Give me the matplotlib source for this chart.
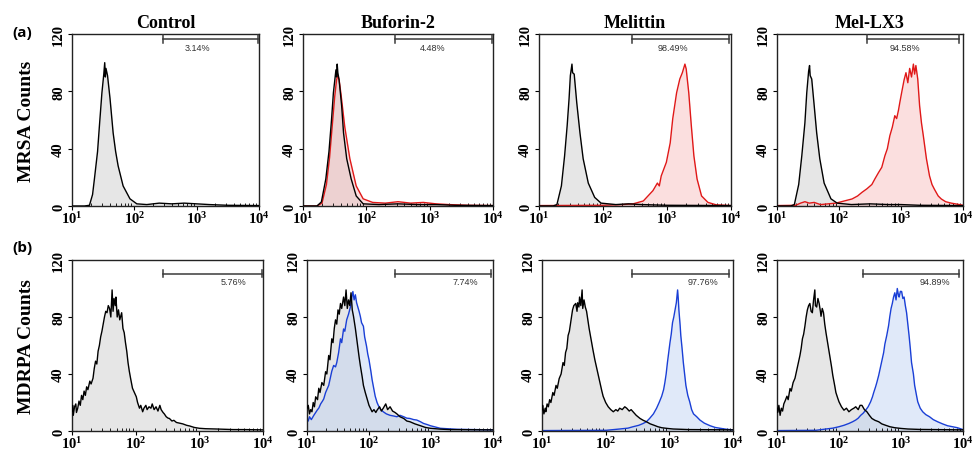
import numpy as np
import matplotlib
matplotlib.use('Agg')
import matplotlib.pyplot as plt

plt.rcParams['font.family'] = ['Liberation Serif', 'DejaVu Serif']
plt.rcParams['mathtext.fontset'] = 'custom'
plt.rcParams['mathtext.rm'] = 'Liberation Serif:bold'
plt.rcParams['mathtext.it'] = 'Liberation Serif:bold'
plt.rcParams['mathtext.bf'] = 'Liberation Serif:bold'

titles = ['Control', 'Buforin-2', 'Melittin', 'Mel-LX3']
row_labels = ['MRSA Counts', 'MDRPA Counts']
row_tags = ['(a)', '(b)']
y_ticks = [0, 40, 80, 120]
x_ticks = [10, 100, 1000, 10000]
x_ticklabels = ['$10^{1}$', '$10^{2}$', '$10^{3}$', '$10^{4}$']

# gate percentages, row a then row b
gate_pct_a = ['3.14%', '4.48%', '98.49%', '94.58%']
gate_pct_b = ['5.76%', '7.74%', '97.76%', '94.89%']

# histogram traces: x in log10(fluorescence), y in counts
# --- MRSA ---
ctl_a1_x = [1.00, 1.20, 1.28, 1.33, 1.36, 1.41, 1.44, 1.48, 1.51, 1.525, 1.535, 1.545, 1.57, 1.61, 1.66, 1.70, 1.74, 1.82, 1.93, 2.04, 2.20, 2.40, 2.60, 2.80, 3.00, 3.20, 3.50, 4.00]
ctl_a1_y = [0, 0, 0.5, 8, 19, 38, 56, 79, 92, 100, 90, 96, 91, 75, 51, 38, 28, 14, 5, 1.5, 1, 2, 1.5, 2, 1.5, 1, 0.5, 0.3]

ctl_a2_x = [1.00, 1.22, 1.29, 1.36, 1.41, 1.45, 1.48, 1.52, 1.53, 1.54, 1.55, 1.57, 1.61, 1.64, 1.69, 1.76, 1.84, 1.95, 2.20, 2.50, 2.80, 3.10, 3.40, 4.00]
ctl_a2_y = [0, 0, 2.8, 18.8, 38, 60, 79, 95, 90, 99, 93, 88, 70, 51, 33, 19, 7, 1.5, 1, 1.5, 1, 1, 0.5, 0.3]
trt_a2_x = [1.00, 1.22, 1.30, 1.37, 1.42, 1.46, 1.50, 1.53, 1.55, 1.57, 1.60, 1.66, 1.74, 1.84, 1.95, 2.10, 2.30, 2.50, 2.70, 2.90, 3.10, 3.30, 3.60, 4.00]
trt_a2_y = [0, 0, 2, 15, 34, 55, 76, 88, 91, 88, 78, 55, 33, 14, 5, 2.5, 2, 3, 2, 2.5, 1.5, 1, 0.5, 0.3]

ctl_a3_x = [1.00, 1.22, 1.28, 1.35, 1.40, 1.44, 1.47, 1.49, 1.515, 1.525, 1.55, 1.59, 1.64, 1.69, 1.77, 1.87, 1.97, 2.20, 2.40, 2.60, 3.00, 4.00]
ctl_a3_y = [0, 0, 1, 14, 35, 56, 75, 91, 99, 93, 92, 72, 51, 33, 16, 6, 2, 1, 1.5, 1, 0.5, 0.3]
trt_a3_x = [1.00, 2.00, 2.30, 2.47, 2.63, 2.78, 2.85, 2.88, 2.91, 2.99, 3.05, 3.09, 3.15, 3.20, 3.24, 3.28, 3.30, 3.34, 3.38, 3.42, 3.47, 3.54, 3.64, 3.77, 4.00]
trt_a3_y = [0.3, 0.5, 1, 1.5, 3.5, 10.7, 16, 14, 21, 30.5, 44, 61, 79, 88.6, 93, 99, 95.6, 79, 56, 35, 18.8, 7, 2.5, 0.8, 0.3]

ctl_a4_x = [1.00, 1.22, 1.28, 1.35, 1.40, 1.45, 1.48, 1.51, 1.525, 1.535, 1.56, 1.60, 1.64, 1.69, 1.76, 1.87, 1.97, 2.20, 2.50, 2.80, 3.00, 3.30, 4.00]
ctl_a4_y = [0, 0, 1, 15, 35, 58, 79, 94, 98, 91, 88.6, 70, 51, 33, 16, 5, 2, 1, 1.5, 1, 1, 0.5, 0.3]
trt_a4_x = [1.00, 1.30, 1.38, 1.45, 1.52, 1.60, 1.70, 1.95, 2.21, 2.30, 2.37, 2.45, 2.53, 2.58, 2.64, 2.69, 2.74, 2.78, 2.82, 2.86, 2.90, 2.93, 2.96, 2.98, 3.01, 3.05, 3.08, 3.11, 3.14, 3.17, 3.20, 3.22, 3.24, 3.27, 3.30, 3.33, 3.36, 3.41, 3.46, 3.50, 3.54, 3.60, 3.65, 3.72, 3.81, 3.97, 4.00]
trt_a4_y = [0.3, 0.5, 2, 3, 2, 2.5, 1, 2, 4.9, 7, 9.5, 12, 15, 19, 23.5, 27, 35, 40, 49, 55, 63, 61, 67, 72, 79, 88, 93, 86, 96, 90, 99, 92, 98, 88.6, 70, 58, 49, 33, 21, 15, 11.6, 7, 4.9, 3, 2, 0.8, 0.5]

# --- MDRPA ---
ctl_b1_x = [1.00, 1.01, 1.02, 1.04, 1.06, 1.07, 1.09, 1.11, 1.13, 1.15, 1.17, 1.19, 1.21, 1.23, 1.25, 1.28, 1.30, 1.33, 1.35, 1.37, 1.39, 1.41, 1.43, 1.45, 1.47, 1.49, 1.51, 1.53, 1.55, 1.57, 1.59, 1.61, 1.63, 1.645, 1.66, 1.68, 1.69, 1.71, 1.73, 1.75, 1.78, 1.80, 1.82, 1.84, 1.86, 1.88, 1.90, 1.92, 1.95, 1.98, 2.01, 2.03, 2.06, 2.08, 2.11, 2.13, 2.16, 2.18, 2.21, 2.24, 2.26, 2.29, 2.32, 2.35, 2.38, 2.40, 2.43, 2.45, 2.48, 2.51, 2.53, 2.57, 2.60, 2.64, 2.69, 2.74, 2.80, 2.85, 2.92, 3.00, 3.10, 3.27, 3.40, 3.53, 3.70, 4.00]
ctl_b1_y = [14, 18, 11, 17, 19, 13, 16, 21, 18, 25, 22, 28, 25, 31, 29, 35, 33, 37, 44, 49, 47, 56, 60, 66, 70, 75, 80, 84, 83, 88, 86, 80, 99, 84, 93, 88, 94, 80, 85, 78, 83, 72, 69, 62, 56, 48, 42, 37, 30, 27, 24, 20, 16, 18, 13.5, 16, 18, 15, 17, 16, 19, 15, 17, 14, 18, 15, 13, 12, 10, 9, 8.8, 7, 7.5, 6, 5.5, 5, 4, 3.5, 2.5, 1.9, 1.6, 1.4, 1.2, 1, 1, 0.8]

ctl_b2_x = [1.00, 1.02, 1.04, 1.06, 1.08, 1.10, 1.12, 1.14, 1.17, 1.19, 1.21, 1.24, 1.27, 1.30, 1.32, 1.35, 1.37, 1.40, 1.42, 1.44, 1.46, 1.48, 1.50, 1.52, 1.54, 1.56, 1.59, 1.61, 1.63, 1.65, 1.67, 1.69, 1.71, 1.73, 1.75, 1.78, 1.81, 1.84, 1.86, 1.89, 1.91, 1.94, 1.97, 2.00, 2.05, 2.08, 2.11, 2.13, 2.17, 2.20, 2.23, 2.27, 2.30, 2.34, 2.38, 2.42, 2.45, 2.50, 2.56, 2.61, 2.66, 2.74, 2.83, 2.91, 2.99, 3.15, 3.30, 4.00]
ctl_b2_y = [16, 18, 12, 15, 13.5, 20, 17, 24, 22, 30, 27, 34, 32, 41.6, 40, 53, 50, 64.7, 62, 72, 78, 75, 85, 82, 89.5, 86, 94, 88, 99, 86, 92, 88, 97, 85, 80.5, 72, 62, 52, 46, 38, 32, 27, 22.5, 18, 13.5, 15, 13, 14.6, 17, 14, 16, 19, 15, 17, 14, 13, 12, 10, 8.8, 7, 6.5, 5, 3.7, 2.5, 1.9, 1.3, 1, 0.8]
trt_b2_x = [1.00, 1.02, 1.04, 1.07, 1.11, 1.14, 1.17, 1.19, 1.22, 1.25, 1.27, 1.30, 1.33, 1.35, 1.38, 1.40, 1.43, 1.46, 1.48, 1.51, 1.54, 1.56, 1.59, 1.61, 1.64, 1.67, 1.70, 1.72, 1.74, 1.76, 1.78, 1.80, 1.82, 1.84, 1.86, 1.88, 1.91, 1.93, 1.96, 1.98, 2.00, 2.03, 2.05, 2.08, 2.10, 2.13, 2.15, 2.19, 2.23, 2.28, 2.34, 2.40, 2.45, 2.50, 2.56, 2.61, 2.66, 2.72, 2.77, 2.83, 2.88, 2.94, 2.99, 3.07, 3.15, 3.30, 3.42, 4.00]
trt_b2_y = [9, 7, 10, 8, 11, 13, 15, 16, 19, 21, 22.5, 27, 30, 32, 38, 42, 46, 45, 48, 55, 64.7, 62, 71.6, 70, 78, 82, 87, 93, 97.9, 92, 95.6, 90, 87, 84, 80.5, 76, 73.5, 66, 59.6, 54, 50, 42, 36, 29, 24.4, 20, 18, 15, 13.5, 12, 11, 10.5, 10, 11, 10, 9, 8.8, 8, 7.7, 6.5, 5.3, 4.5, 3.7, 2.8, 1.9, 1.5, 1.2, 0.8]

ctl_b3_x = [1.00, 1.01, 1.03, 1.05, 1.06, 1.08, 1.10, 1.12, 1.14, 1.17, 1.19, 1.22, 1.24, 1.27, 1.30, 1.33, 1.35, 1.37, 1.39, 1.41, 1.43, 1.45, 1.47, 1.48, 1.50, 1.53, 1.55, 1.56, 1.58, 1.59, 1.61, 1.63, 1.64, 1.66, 1.68, 1.70, 1.72, 1.74, 1.76, 1.78, 1.80, 1.83, 1.85, 1.88, 1.91, 1.94, 1.96, 2.00, 2.04, 2.08, 2.12, 2.16, 2.19, 2.22, 2.26, 2.30, 2.33, 2.37, 2.40, 2.43, 2.48, 2.54, 2.59, 2.64, 2.70, 2.75, 2.82, 2.88, 2.97, 3.06, 3.30, 4.00]
ctl_b3_y = [15, 18, 12, 16, 13.5, 19, 17, 22, 20, 27, 25, 32, 30, 36.8, 40, 48, 46, 55, 58, 67, 70, 76, 82, 85, 88, 89.5, 84, 90, 87, 94, 88, 99, 86, 92, 87, 84, 78, 72, 67, 62, 57, 50, 46, 40, 34, 28, 24.4, 20, 17, 15, 13.5, 15, 14, 16, 15, 17, 16, 14, 15, 13.5, 11, 8.8, 7.5, 6.5, 5, 4.2, 3, 2.3, 1.8, 1.4, 1, 0.8]
trt_b3_x = [1.00, 2.01, 2.22, 2.35, 2.43, 2.52, 2.59, 2.64, 2.69, 2.75, 2.80, 2.84, 2.88, 2.91, 2.93, 2.95, 2.97, 2.99, 3.01, 3.03, 3.05, 3.07, 3.09, 3.11, 3.13, 3.14, 3.15, 3.17, 3.18, 3.20, 3.22, 3.24, 3.26, 3.29, 3.32, 3.35, 3.38, 3.43, 3.48, 3.55, 3.64, 3.72, 3.80, 3.90, 4.00]
trt_b3_y = [0.3, 0.5, 1.4, 2, 3, 4, 5.3, 6.5, 8.8, 12, 16, 20, 24.4, 29, 34, 40, 48, 55, 62, 68, 76, 80, 85, 90, 99, 93, 85, 74, 67, 58, 48, 40, 32, 25, 20.5, 15, 12, 10, 7.7, 5.5, 3.7, 2.5, 1.9, 1.2, 0.8]

ctl_b4_x = [1.00, 1.01, 1.03, 1.05, 1.07, 1.09, 1.11, 1.13, 1.16, 1.18, 1.21, 1.23, 1.26, 1.29, 1.32, 1.34, 1.37, 1.39, 1.41, 1.43, 1.45, 1.47, 1.49, 1.51, 1.53, 1.55, 1.57, 1.59, 1.61, 1.62, 1.64, 1.66, 1.68, 1.70, 1.71, 1.73, 1.75, 1.77, 1.79, 1.82, 1.85, 1.88, 1.90, 1.93, 1.95, 1.98, 2.00, 2.04, 2.08, 2.12, 2.16, 2.20, 2.24, 2.27, 2.31, 2.34, 2.37, 2.41, 2.45, 2.49, 2.53, 2.58, 2.64, 2.69, 2.74, 2.82, 2.90, 3.00, 3.11, 3.30, 4.00]
ctl_b4_y = [16, 13, 18, 11, 16, 14, 19, 21, 24.4, 22, 29.8, 28, 34, 37, 43, 47, 53, 58, 64.7, 68, 73.5, 80, 85, 88, 89.5, 84, 83, 92, 99, 88, 87, 93, 89.5, 84, 80.5, 86, 83, 75, 69, 61, 53, 45, 39, 32, 27, 23, 20.5, 17, 14.6, 16, 13.5, 15, 16, 17, 15, 18, 18, 15, 13.5, 11, 8.8, 7.5, 6.5, 5, 4.2, 3, 2.3, 1.8, 1.4, 1.1, 0.8]
trt_b4_x = [1.00, 1.63, 1.79, 1.90, 2.00, 2.08, 2.16, 2.22, 2.27, 2.31, 2.35, 2.39, 2.43, 2.47, 2.51, 2.54, 2.56, 2.59, 2.61, 2.64, 2.66, 2.69, 2.72, 2.74, 2.77, 2.80, 2.82, 2.84, 2.86, 2.88, 2.90, 2.92, 2.94, 2.96, 2.97, 2.99, 3.01, 3.03, 3.05, 3.07, 3.09, 3.11, 3.13, 3.15, 3.17, 3.20, 3.22, 3.25, 3.27, 3.31, 3.35, 3.40, 3.46, 3.52, 3.59, 3.67, 3.75, 3.83, 3.91, 4.00]
trt_b4_y = [0.3, 0.5, 1.4, 2, 3, 4, 5.3, 6.5, 7.7, 9, 11, 12.5, 14.6, 17, 20.5, 24, 27, 31, 34, 39, 43, 49, 55, 61, 67, 74, 80.5, 86, 89.5, 94, 97, 92, 100, 95, 94, 98, 97.9, 93, 94, 88, 83, 75, 67, 58, 48, 40, 32, 25, 20.5, 16, 13.5, 11.5, 10, 8, 6.5, 5, 3.7, 3, 2.3, 1]

# gate bars: start, end, text position (all log10)
gate_a = [(2.46, 3.98, 3.02), (2.46, 3.98, 3.04), (2.46, 3.97, 3.09), (2.45, 3.94, 3.07)]
gate_b = [(2.43, 3.98, 3.53), (2.42, 3.97, 3.55), (2.41, 3.94, 3.53), (2.39, 3.94, 3.55)]

W, H = 974, 452
fig = plt.figure(figsize=(W / 100, H / 100), dpi=100)

rows = [
    dict(lefts=[72, 303, 539, 777], widths=[187, 190, 192, 186], top=35, bottom=207,
         ctl=[(ctl_a1_x, ctl_a1_y), (ctl_a2_x, ctl_a2_y), (ctl_a3_x, ctl_a3_y), (ctl_a4_x, ctl_a4_y)],
         trt=[None, (trt_a2_x, trt_a2_y), (trt_a3_x, trt_a3_y), (trt_a4_x, trt_a4_y)],
         line='#e01818', fill='#f7b8b8', gate=gate_a, pct=gate_pct_a, gy=116.5, ty=110.5),
    dict(lefts=[72, 307, 542, 777], widths=[191, 186, 191, 186], top=261, bottom=432,
         ctl=[(ctl_b1_x, ctl_b1_y), (ctl_b2_x, ctl_b2_y), (ctl_b3_x, ctl_b3_y), (ctl_b4_x, ctl_b4_y)],
         trt=[None, (trt_b2_x, trt_b2_y), (trt_b3_x, trt_b3_y), (trt_b4_x, trt_b4_y)],
         line='#1a3fd6', fill='#bcd0f2', gate=gate_b, pct=gate_pct_b, gy=110.5, ty=105),
]

for r, row in enumerate(rows):
    for c in range(4):
        left, width = row['lefts'][c], row['widths'][c]
        ax = fig.add_axes([left / W, 1 - row['bottom'] / H, width / W, (row['bottom'] - row['top']) / H])
        ax.set_xscale('log')
        ax.set_xlim(10, 10000)
        ax.set_ylim(0, 120)

        cx, cy = row['ctl'][c]
        cx = 10 ** np.array(cx)
        ax.fill_between(cx, cy, color='#c8c8c8', alpha=0.45, lw=0, zorder=1)
        if row['trt'][c] is not None:
            tx, ty = row['trt'][c]
            tx = 10 ** np.array(tx)
            ax.fill_between(tx, ty, color=row['fill'], alpha=0.45, lw=0, zorder=1)
            ax.plot(tx, ty, color=row['line'], lw=1.0, zorder=2)
        ax.plot(cx, cy, color='black', lw=1.0, zorder=3)

        # marker gate
        g0, g1, gt = row['gate'][c]
        gy = row['gy']
        ax.plot([10 ** g0, 10 ** g1], [gy, gy], color='#3a3a3a', lw=1.1, zorder=4)
        ax.plot([10 ** g0, 10 ** g0], [gy - 2.5, gy + 2.5], color='#3a3a3a', lw=1.1, zorder=4)
        ax.plot([10 ** g1, 10 ** g1], [gy - 2.5, gy + 2.5], color='#3a3a3a', lw=1.1, zorder=4)
        ax.text(10 ** gt, row['ty'], row['pct'][c], ha='center', va='center',
                fontsize=6.5, color='#333333', family=['Liberation Sans', 'DejaVu Sans'])

        ax.set_xticks(x_ticks)
        ax.set_xticklabels(x_ticklabels, fontsize=10.5)
        ax.set_yticks(y_ticks)
        ax.set_yticklabels([str(v) for v in y_ticks], fontsize=10.5, fontweight='bold',
                           rotation=90, va='center')
        ax.tick_params(axis='x', which='major', direction='out', length=3, width=0.8, pad=0)
        ax.tick_params(axis='x', which='minor', direction='in', length=2, width=0.6)
        ax.tick_params(axis='y', direction='out', length=3, width=0.8, pad=2)
        for s in ax.spines.values():
            s.set_linewidth(1.0)
            s.set_color('#222222')

        if r == 0:
            ax.set_title(titles[c], fontsize=13, fontweight='bold', pad=5)
        if c == 0:
            ax.set_ylabel(row_labels[r], fontsize=14, fontweight='bold')
            ax.yaxis.set_label_coords(-37 / width, 0.5)

fig.text(12 / W, 1 - 33 / H, row_tags[0], fontsize=11, fontweight='bold',
         family=['Open Sans', 'DejaVu Sans'], va='center')
fig.text(12 / W, 1 - 248 / H, row_tags[1], fontsize=11, fontweight='bold',
         family=['Open Sans', 'DejaVu Sans'], va='center')

fig.savefig('out.png', dpi=100)
